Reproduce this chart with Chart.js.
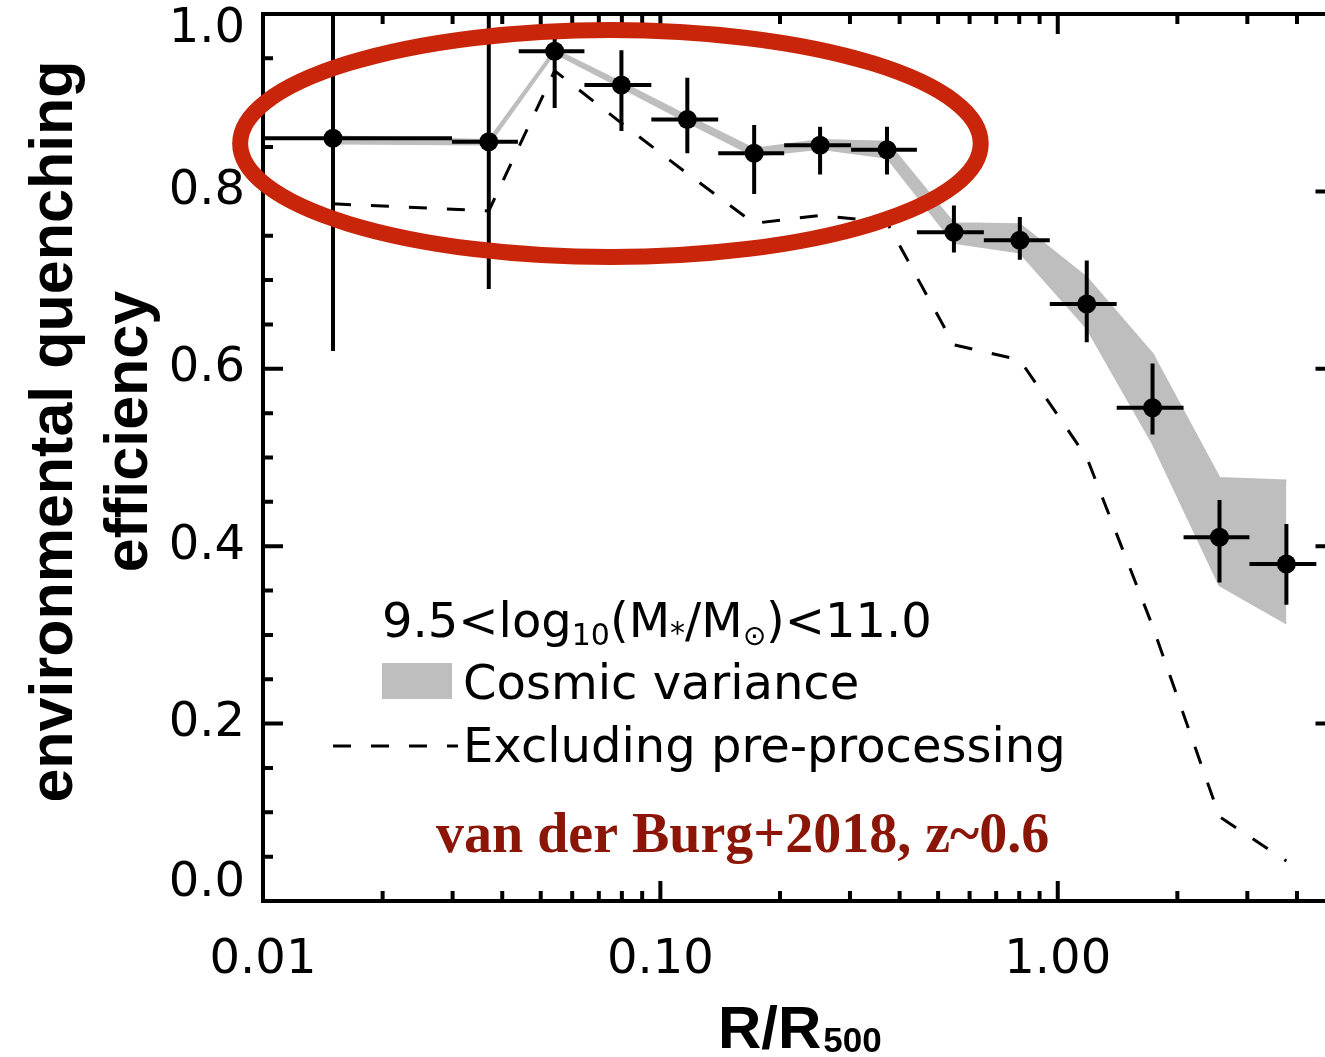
<!DOCTYPE html>
<html lang="en">
<head>
  <meta charset="UTF-8" />
  <title>Environmental quenching efficiency vs R/R500</title>
  <script src="https://cdn.jsdelivr.net/npm/chart.js"></script>
  <style>
    html, body { margin: 0; padding: 0; background: #fff; overflow: hidden; }
    #wrap { width: 1345px; height: 1057px; }
  </style>
</head>
<body>
  <div id="wrap"><canvas id="chart"></canvas></div>

  <script>
    // radial bins (R/R500): centre, lower and upper edge
    const radius   = [0.0150, 0.0370, 0.0542, 0.0798, 0.1169, 0.1722, 0.2523, 0.3718, 0.5479, 0.8027, 1.183, 1.732, 2.553, 3.762];
    const radiusLo = [0.0100, 0.0299, 0.0440, 0.0644, 0.0949, 0.1398, 0.2049, 0.3019, 0.4421, 0.6517, 0.9548, 1.407, 2.073, 3.037];
    const radiusHi = [0.0299, 0.0438, 0.0644, 0.0949, 0.1398, 0.2049, 0.3019, 0.4421, 0.6517, 0.9548, 1.407, 2.073, 3.037, 4.475];

    // quenching efficiency with error bars
    const efficiency = [0.860, 0.856, 0.958, 0.920, 0.881, 0.843, 0.852, 0.847, 0.754, 0.745, 0.673, 0.556, 0.410, 0.380];
    const effLo      = [0.620, 0.690, 0.894, 0.868, 0.843, 0.797, 0.819, 0.819, 0.731, 0.723, 0.630, 0.526, 0.359, 0.334];
    const effHi      = [1.000, 1.000, 0.977, 0.959, 0.928, 0.875, 0.873, 0.873, 0.784, 0.771, 0.722, 0.606, 0.452, 0.425];

    // cosmic variance band
    const cosmicLo = [0.854, 0.853, 0.956, 0.917, 0.878, 0.840, 0.848, 0.838, 0.742, 0.731, 0.646, 0.516, 0.356, 0.313];
    const cosmicHi = [0.862, 0.858, 0.960, 0.923, 0.885, 0.848, 0.858, 0.856, 0.764, 0.763, 0.703, 0.617, 0.477, 0.474];

    // excluding pre-processing
    const noPreproc = [0.786, 0.778, 0.936, 0.877, 0.820, 0.764, 0.773, 0.765, 0.627, 0.610, 0.500, 0.310, 0.095, 0.045];

    const xMajorTicks = [0.01, 0.1, 1];
    const xMinorTicks = [0.02, 0.03, 0.04, 0.05, 0.06, 0.07, 0.08, 0.09,
                         0.2, 0.3, 0.4, 0.5, 0.6, 0.7, 0.8, 0.9, 2, 3, 4];
    const yMajorTicks = [0, 0.2, 0.4, 0.6, 0.8, 1.0];
    const yMinorTicks = [0.05, 0.1, 0.15, 0.25, 0.3, 0.35, 0.45, 0.5, 0.55,
                         0.65, 0.7, 0.75, 0.85, 0.9, 0.95];

    const pts = arr => radius.map((r, i) => ({ x: r, y: arr[i] }));
    const tickFont = '48px "DejaVu Sans", sans-serif';

    // frame, inward ticks, y tick labels, titles, legend, note
    const decor = {
      id: 'decor',
      afterDatasetsDraw(chart) {
        const { ctx, chartArea: a, scales: { x, y } } = chart;
        // error bars
        ctx.save();
        ctx.beginPath();
        ctx.rect(a.left, a.top, a.right - a.left, a.bottom - a.top);
        ctx.clip();
        ctx.strokeStyle = '#000';
        ctx.lineWidth = 4;
        ctx.beginPath();
        radius.forEach((r, i) => {
          const py = y.getPixelForValue(efficiency[i]);
          const px = x.getPixelForValue(r);
          ctx.moveTo(x.getPixelForValue(radiusLo[i]), py);
          ctx.lineTo(x.getPixelForValue(radiusHi[i]), py);
          ctx.moveTo(px, y.getPixelForValue(effLo[i]));
          ctx.lineTo(px, y.getPixelForValue(effHi[i]));
        });
        ctx.stroke();
        ctx.restore();
      },
      afterDraw(chart) {
        const { ctx, chartArea: a, scales: { x, y } } = chart;
        ctx.save();
        ctx.strokeStyle = '#000';
        ctx.fillStyle = '#000';
        ctx.lineWidth = 4;
        ctx.strokeRect(a.left, a.top, a.right - a.left, a.bottom - a.top);

        ctx.beginPath();
        const xt = (v, len) => {
          const px = x.getPixelForValue(v);
          ctx.moveTo(px, a.bottom); ctx.lineTo(px, a.bottom - len);
          ctx.moveTo(px, a.top); ctx.lineTo(px, a.top + len);
        };
        const yt = (v, len) => {
          const py = y.getPixelForValue(v);
          ctx.moveTo(a.left, py); ctx.lineTo(a.left + len, py);
          ctx.moveTo(a.right, py); ctx.lineTo(a.right - len, py);
        };
        xMajorTicks.forEach(v => xt(v, 20));
        xMinorTicks.forEach(v => xt(v, 10));
        yMajorTicks.forEach(v => yt(v, 20));
        yMinorTicks.forEach(v => yt(v, 10));
        ctx.stroke();

        // y tick labels (end labels kept inside the frame like the original)
        ctx.font = tickFont;
        ctx.textAlign = 'right';
        ctx.textBaseline = 'middle';
        yMajorTicks.forEach(v => {
          const py = Math.min(Math.max(y.getPixelForValue(v), a.top + 16), a.bottom - 17);
          ctx.fillText(v.toFixed(1), a.left - 18, py);
        });

        // axis titles
        ctx.textBaseline = 'alphabetic';
        ctx.textAlign = 'center';
        ctx.font = 'bold 61px "Liberation Sans", Arial, sans-serif';
        const midY = (a.top + a.bottom) / 2 - 26;
        ctx.save();
        ctx.translate(72, midY);
        ctx.rotate(-Math.PI / 2);
        ctx.fillText('environmental quenching', 0, 0);
        ctx.restore();
        ctx.save();
        ctx.translate(147, midY);
        ctx.rotate(-Math.PI / 2);
        ctx.fillText('efficiency', 0, 0);
        ctx.restore();

        ctx.textAlign = 'left';
        let tx = 718;
        ctx.font = 'bold 60px "Liberation Sans", Arial, sans-serif';
        ctx.fillText('R/R', tx, 1048);
        tx += ctx.measureText('R/R').width + 2;
        ctx.font = 'bold 35px "Liberation Sans", Arial, sans-serif';
        ctx.fillText('500', tx, 1052);

        // legend
        const run = (parts, x0, base) => {
          let cx = x0;
          parts.forEach(([t, size, dy]) => {
            ctx.font = size + 'px "DejaVu Sans", sans-serif';
            ctx.fillText(t, cx, base + dy);
            cx += ctx.measureText(t).width;
          });
        };
        run([['9.5<log', 48, 0], ['10', 30, 8], ['(M', 48, 0], ['*', 30, 6],
             ['/M', 48, 0], ['\u2299', 28, 8], [')<11.0', 48, 0]], 382, 637);
        ctx.fillStyle = '#bebebe';
        ctx.fillRect(382, 663, 70, 36);
        ctx.fillStyle = '#000';
        run([['Cosmic variance', 48, 0]], 463, 699);
        ctx.save();
        ctx.lineWidth = 3;
        ctx.setLineDash([18, 20]);
        ctx.beginPath();
        ctx.moveTo(333, 746); ctx.lineTo(458, 746);
        ctx.stroke();
        ctx.restore();
        run([['Excluding pre-processing', 48, 0]], 463, 762);

        // reference note
        ctx.fillStyle = '#8b1506';
        ctx.font = 'bold 56px "Liberation Serif", "Times New Roman", serif';
        ctx.fillText('van der Burg+2018, z~0.6', 436, 852);

        // hand-drawn red ring, anchored in data units
        const ringX = [0.00876, 0.640];
        const ringY = [0.726, 0.982];
        const x0 = x.getPixelForValue(ringX[0]), x1 = x.getPixelForValue(ringX[1]);
        const y0 = y.getPixelForValue(ringY[1]), y1 = y.getPixelForValue(ringY[0]);
        ctx.strokeStyle = '#c8250a';
        ctx.lineWidth = 16;
        ctx.beginPath();
        ctx.ellipse((x0 + x1) / 2, (y0 + y1) / 2, (x1 - x0) / 2, (y1 - y0) / 2, 0, 0, Math.PI * 2);
        ctx.stroke();
        ctx.restore();
      }
    };

    new Chart(document.getElementById('chart'), {
      type: 'line',
      data: {
        datasets: [
          {
            label: 'Cosmic variance (upper)',
            data: pts(cosmicHi),
            borderColor: '#bebebe',
            borderWidth: 2,
            pointRadius: 0,
            fill: false,
            order: 3
          },
          {
            label: 'Cosmic variance',
            data: pts(cosmicLo),
            borderColor: '#bebebe',
            backgroundColor: '#bebebe',
            borderWidth: 2,
            pointRadius: 0,
            fill: '-1',
            order: 2
          },
          {
            label: 'Excluding pre-processing',
            data: pts(noPreproc),
            borderColor: '#000',
            borderWidth: 3,
            borderDash: [18, 20],
            pointRadius: 0,
            fill: false,
            order: 1
          },
          {
            label: 'Quenching efficiency',
            data: pts(efficiency),
            showLine: false,
            pointRadius: 9.5,
            pointBackgroundColor: '#000',
            pointBorderColor: '#000',
            pointBorderWidth: 0,
            order: 0
          }
        ]
      },
      options: {
        responsive: true,
        maintainAspectRatio: false,
        animation: false,
        layout: { padding: { top: 14, right: 8, bottom: 0, left: 0 } },
        plugins: { legend: { display: false }, tooltip: { enabled: false } },
        scales: {
          x: {
            type: 'logarithmic',
            min: 0.01,
            max: 5,
            grid: { display: false, drawTicks: false },
            border: { display: false },
            afterBuildTicks: s => { s.ticks = xMajorTicks.map(v => ({ value: v, major: true })); },
            afterFit: s => { s.height = 156; },
            ticks: {
              autoSkip: false,
              maxRotation: 0,
              padding: 31,
              color: '#000',
              font: { family: '"DejaVu Sans", sans-serif', size: 48 },
              callback: v => Number(v).toFixed(2)
            }
          },
          y: {
            type: 'linear',
            min: 0,
            max: 1,
            grid: { display: false, drawTicks: false },
            border: { display: false },
            ticks: { display: false },
            afterFit: s => { s.width = 263; }
          }
        }
      },
      plugins: [decor]
    });
  </script>
</body>
</html>
